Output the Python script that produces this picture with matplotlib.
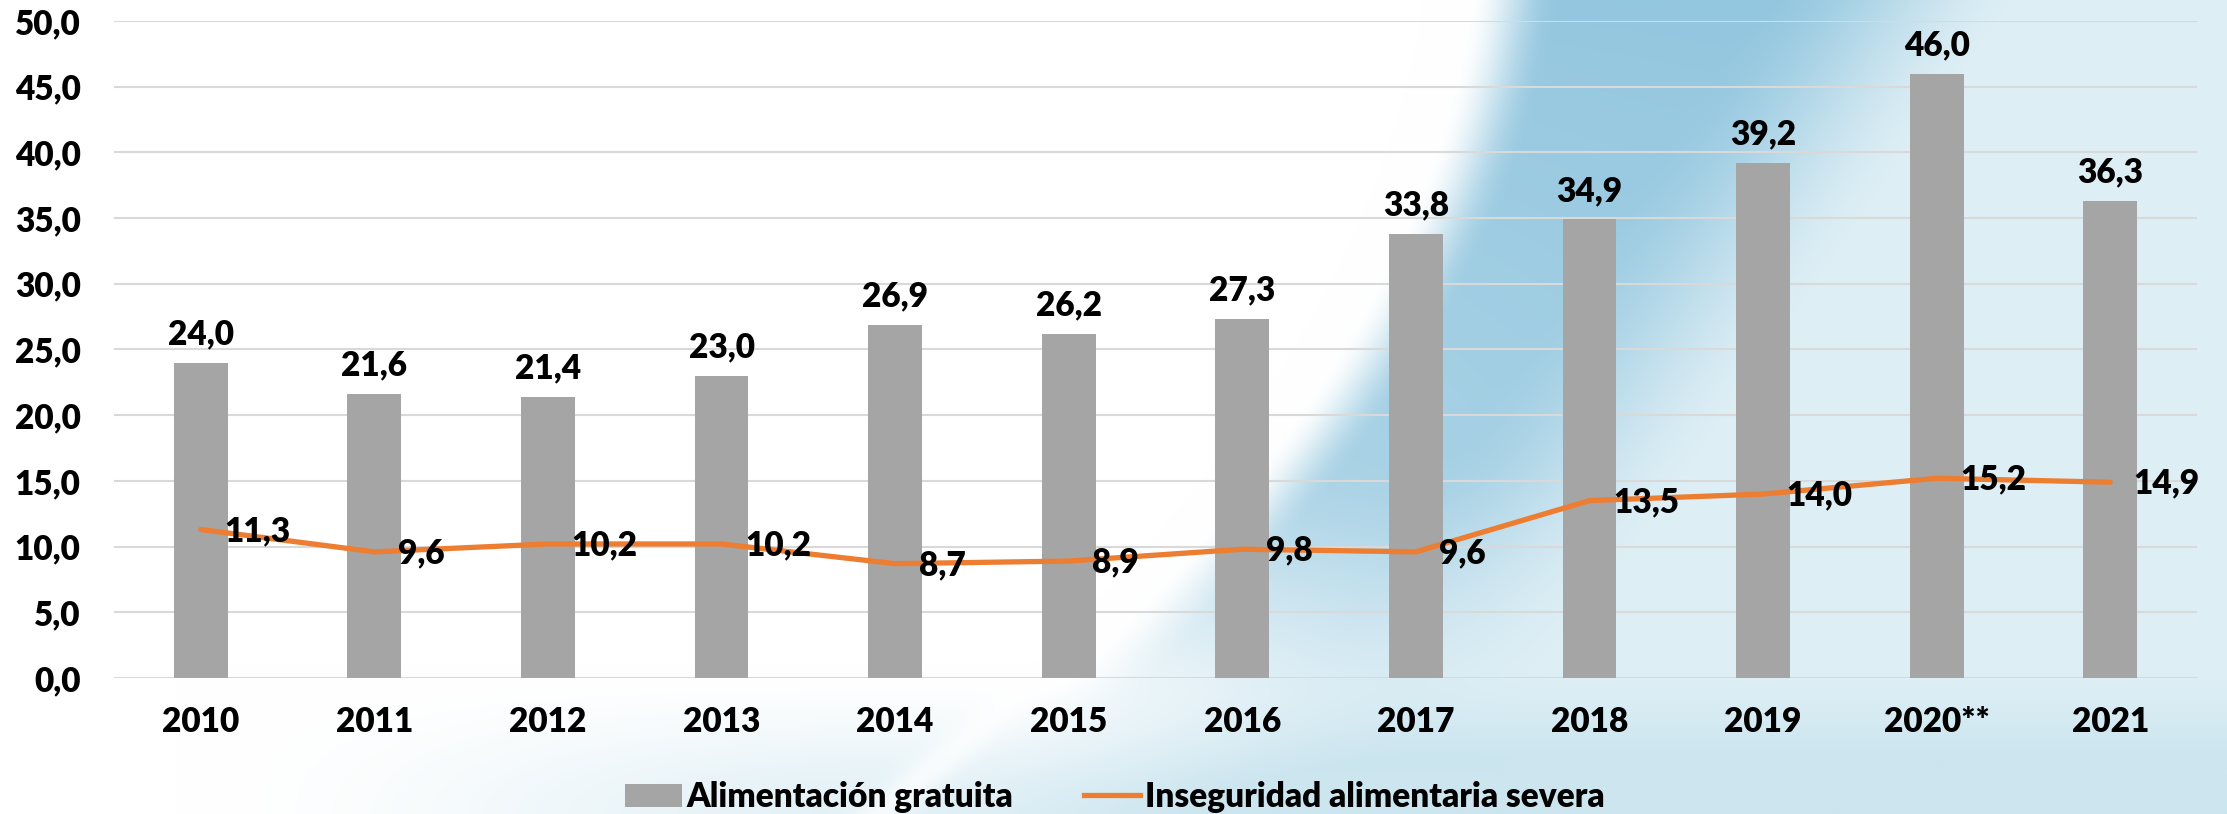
import numpy as np
import matplotlib
matplotlib.use("Agg")
import matplotlib.pyplot as plt
from matplotlib.patches import Patch
from matplotlib.lines import Line2D

years = ['2010', '2011', '2012', '2013', '2014', '2015', '2016', '2017', '2018', '2019', '2020**', '2021']
alimentacion_gratuita = [24.0, 21.6, 21.4, 23.0, 26.9, 26.2, 27.3, 33.8, 34.9, 39.2, 46.0, 36.3]
inseguridad_severa = [11.3, 9.6, 10.2, 10.2, 8.7, 8.9, 9.8, 9.6, 13.5, 14.0, 15.2, 14.9]
y_ticks = [0, 5, 10, 15, 20, 25, 30, 35, 40, 45, 50]

FONT = ['Lato', 'DejaVu Sans']
WEIGHT = 'heavy'
FS = 24
plt.rcParams['font.family'] = FONT
plt.rcParams['font.weight'] = WEIGHT

def fmt(v):
    return f"{v:.1f}".replace('.', ',')

W, H = 2227, 814
fig = plt.figure(figsize=(W / 100, H / 100), dpi=100)

# decorative background
bg = fig.add_axes([0, 0, 1, 1], zorder=0)
gx, gy = np.meshgrid(np.linspace(0, 1, 560), np.linspace(0, 1, 205))
def sstep(t, a, b):
    t = np.clip((t - a) / (b - a), 0, 1)
    return t * t * (3 - 2 * t)
xl = 0.66 - 0.05 * gy - 0.2 * gy ** 2
xr = 0.87 - 0.25 * gy
light = 0.65 * sstep(gx, xl - 0.02, xr) + 0.55 * sstep(gy, 0.82, 1.0) * sstep(gx, 0.08, 0.4)
light = np.clip(light, 0, 1)
dark = sstep(gx, xl, xl + 0.04) * (1 - sstep(gx, xr - 0.08, xr + 0.04)) * (1 - sstep(gy, 0.55, 0.95))
dark *= 0.95 - 0.35 * gy
streak = np.exp(-((gx - (xl - 0.015)) / 0.012) ** 2)
white = np.array([1.0, 1.0, 1.0])
lb = np.array([0.80, 0.90, 0.94])
db = np.array([0.56, 0.77, 0.87])
img = white * (1 - light[..., None]) + lb * light[..., None]
img = img * (1 - dark[..., None]) + db * dark[..., None]
img = img * (1 - 0.7 * streak[..., None]) + white * 0.7 * streak[..., None]
bg.imshow(img, aspect='auto', interpolation='bilinear', extent=[0, 1, 1, 0])
bg.set_axis_off()

ax = fig.add_axes([114 / W, 1 - 678 / H, (2197 - 114) / W, (678 - 21) / H], zorder=1)
ax.set_facecolor('none')
x = np.arange(len(years))

ax.bar(x, alimentacion_gratuita, width=0.31, color='#A5A5A5', zorder=2)
ax.plot(x, inseguridad_severa, color='#ED7D31', lw=3.8, zorder=3, solid_capstyle='round')

for xi, v in zip(x, alimentacion_gratuita):
    ax.annotate(fmt(v), (xi, v), xytext=(0, 9), textcoords='offset points',
                ha='center', va='bottom', fontsize=FS, fontweight=WEIGHT, color='black', zorder=4)
for xi, v in zip(x, inseguridad_severa):
    ax.annotate(fmt(v), (xi, v), xytext=(17, -1), textcoords='offset points',
                ha='left', va='center', fontsize=FS, fontweight=WEIGHT, color='black', zorder=4)

ax.set_xlim(-0.5, len(years) - 0.5)
ax.set_ylim(0, 50)
ax.set_yticks(y_ticks)
ax.set_yticklabels([fmt(v) for v in y_ticks])
ax.set_xticks(x)
ax.set_xticklabels(years)
ax.tick_params(axis='y', length=0, pad=24, labelsize=FS)
ax.tick_params(axis='x', length=0, pad=20, labelsize=FS)
for lab in ax.get_xticklabels() + ax.get_yticklabels():
    lab.set_fontweight(WEIGHT)
ax.grid(axis='y', color='#D9D9D9', lw=1.5, zorder=1)
ax.set_axisbelow(True)
for s in ax.spines.values():
    s.set_visible(False)

handles = [Patch(facecolor='#A5A5A5', edgecolor='none'),
           Line2D([0], [0], color='#ED7D31', lw=3.8)]
fig.legend(handles, ['Alimentación gratuita', 'Inseguridad alimentaria severa'],
           loc='center', bbox_to_anchor=(1115 / W, 1 - 797 / H), ncol=2, frameon=False,
           prop={'family': FONT, 'weight': WEIGHT, 'size': FS},
           handlelength=1.7, handleheight=0.7, handletextpad=0.15, columnspacing=2.1)

fig.savefig('out.png', dpi=100)
